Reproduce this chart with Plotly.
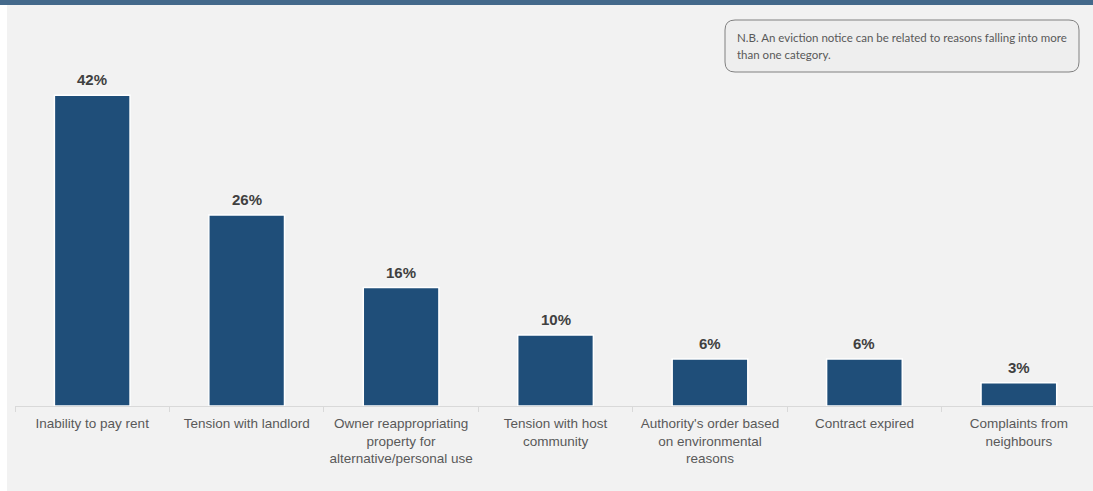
import plotly.graph_objects as go

categories = [
    "Inability to pay rent",
    "Tension with landlord",
    "Owner reappropriating<br>property for<br>alternative/personal use",
    "Tension with host<br>community",
    "Authority's order based<br>on environmental<br>reasons",
    "Contract expired",
    "Complaints from<br>neighbours",
]
values = [42, 25.8, 16, 9.6, 6.35, 6.35, 3.15]
labels = ["42%", "26%", "16%", "10%", "6%", "6%", "3%"]
note_lines = [
    "N.B. An eviction notice can be related to reasons falling into more",
    "than one category.",
]

W, H = 1093, 491
L, R, T, B = 15, 0, 20, 85
PW, PH = W - L - R, H - T - B


def px(x):
    return (x - L) / PW


def py(y):
    return 1 - (y - T) / PH


def rounded_rect(x0, y0, x1, y1, r):
    pts = []
    pts.append(f"M {px(x0 + r)},{py(y0)}")
    pts.append(f"L {px(x1 - r)},{py(y0)}")
    pts.append(f"Q {px(x1)},{py(y0)} {px(x1)},{py(y0 + r)}")
    pts.append(f"L {px(x1)},{py(y1 - r)}")
    pts.append(f"Q {px(x1)},{py(y1)} {px(x1 - r)},{py(y1)}")
    pts.append(f"L {px(x0 + r)},{py(y1)}")
    pts.append(f"Q {px(x0)},{py(y1)} {px(x0)},{py(y1 - r)}")
    pts.append(f"L {px(x0)},{py(y0 + r)}")
    pts.append(f"Q {px(x0)},{py(y0)} {px(x0 + r)},{py(y0)} Z")
    return " ".join(pts)


fig = go.Figure(
    go.Bar(
        x=categories,
        y=values,
        marker=dict(color="#1f4e79", line=dict(color="white", width=1.5)),
        width=0.49,
        hoverinfo="skip",
    )
)

shapes = [
    dict(type="rect", xref="paper", yref="paper", x0=px(7), x1=px(1093), y0=py(491), y1=py(5),
         fillcolor="#f2f2f2", line=dict(width=0), layer="below"),
    dict(type="rect", xref="paper", yref="paper", x0=px(0), x1=px(1093), y0=py(5), y1=py(0),
         fillcolor="#44698b", line=dict(width=0), layer="below"),
    dict(type="path", xref="paper", yref="paper", path=rounded_rect(725, 20, 1079, 72, 10),
         fillcolor="#eeeeee", line=dict(color="#808080", width=1), layer="above"),
]

annotations = []
for cat, v, lab in zip(categories, values, labels):
    annotations.append(dict(
        x=cat, y=v, xref="x", yref="y", text=lab, showarrow=False,
        yanchor="bottom", yshift=5,
        font=dict(family="Liberation Sans, Arial", size=15, color="#404040", weight="bold"),
    ))
for i, line in enumerate(note_lines):
    annotations.append(dict(
        xref="paper", yref="paper", x=px(735), y=py(38 + 17 * i),
        xanchor="left", yanchor="middle", text=line, showarrow=False, align="left",
        font=dict(family="Lato, Open Sans", size=11.5, color="#595959"),
    ))

fig.update_layout(
    width=W,
    height=H,
    margin=dict(l=L, r=R, t=T, b=B),
    paper_bgcolor="white",
    plot_bgcolor="rgba(0,0,0,0)",
    showlegend=False,
    shapes=shapes,
    annotations=annotations,
    xaxis=dict(
        range=[-0.5, 6.48],
        showline=True,
        linecolor="#d9d9d9",
        linewidth=1,
        ticks="outside",
        tickson="boundaries",
        ticklen=5,
        tickcolor="#d9d9d9",
        ticklabelstandoff=5,
        showgrid=False,
        tickfont=dict(family="Liberation Sans, Arial", size=13.5, color="#595959"),
        fixedrange=True,
    ),
    yaxis=dict(
        range=[0, PH / 7.4],
        showticklabels=False,
        showgrid=False,
        zeroline=False,
        showline=False,
        fixedrange=True,
    ),
)

fig.write_html("out.html")
